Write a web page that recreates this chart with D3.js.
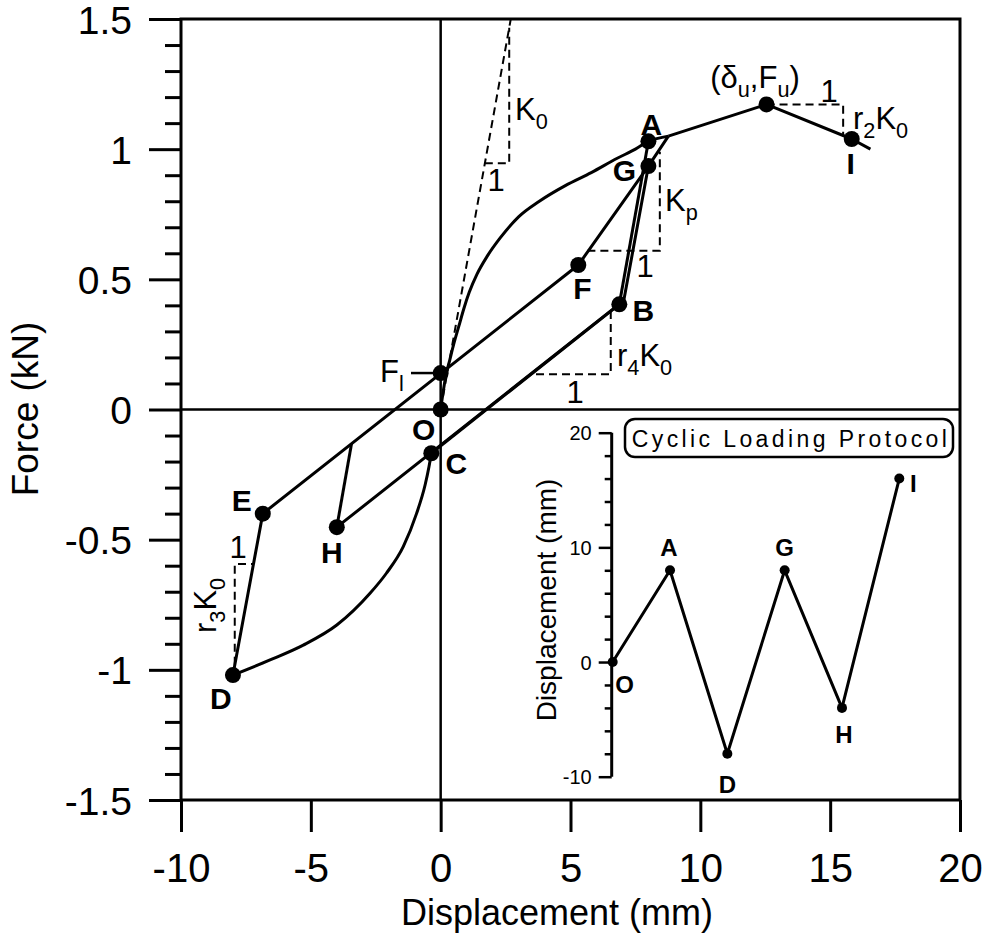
<!DOCTYPE html>
<html><head><meta charset="utf-8">
<script src="https://cdn.jsdelivr.net/npm/d3@7"></script>
<style>
body{margin:0;background:#fff}
svg{display:block}
text{font-family:"Liberation Sans",Arial,Helvetica,sans-serif;fill:#000}
</style>
</head><body><svg id="c" width="985" height="936"></svg>
<script>
// ---------------- data ----------------
const xTicks = [-10, -5, 0, 5, 10, 15, 20];
const yTicks = [-1.5, -1, -0.5, 0, 0.5, 1, 1.5];
const yMinorTicks = [-1.4,-1.3,-1.2,-1.1,-0.9,-0.8,-0.7,-0.6,-0.4,-0.3,-0.2,-0.1,0.1,0.2,0.3,0.4,0.6,0.7,0.8,0.9,1.1,1.2,1.3,1.4];

// monotonic backbone (positive side, smooth part)
const backboneX = [0, 0.1, 0.2, 0.35, 0.5, 0.7, 0.9, 1.1, 1.4, 1.8, 2.3, 3.0, 3.8, 4.8, 5.8, 6.8, 7.5, 8.0, 8.77];
const backboneY = [0, 0.07, 0.13, 0.19, 0.25, 0.32, 0.39, 0.45, 0.52, 0.59, 0.66, 0.74, 0.80, 0.86, 0.91, 0.965, 1.0, 1.03, 1.05];
// post-yield linear part: kink -> peak -> I -> end
const postX = [8.77, 12.55, 15.83, 16.55];
const postY = [1.05, 1.172, 1.039, 1.0];
// negative backbone from D to C
const negX = [-8, -6.57, -5.29, -4.0, -2.72, -2.09, -1.44, -0.93, -0.6, -0.45, -0.36];
const negY = [-1.02, -0.962, -0.905, -0.828, -0.706, -0.629, -0.527, -0.40, -0.29, -0.22, -0.168];
// hysteresis branches
const unloadAX = [8.0, 6.88];            const unloadAY = [1.03, 0.404];          // A -> B
const pinchBX  = [6.88, -0.36];          const pinchBY  = [0.404, -0.168];        // B -> C
const reloadDX = [-8, -6.85, 5.3, 8.0, 8.77]; const reloadDY = [-1.02, -0.40, 0.555, 0.935, 1.05]; // D->E->F->G->kink
const unloadGX = [8.0, 7.05, -4.0];      const unloadGY = [0.935, 0.418, -0.452]; // G -> pinch -> H
const reloadHX = [-4.0, -3.43];          const reloadHY = [-0.452, -0.13];        // H -> E-line

// marked points
const ptNames = ["A","G","F","B","I","E","H","O","C","D","Fl","Pk"];
const ptX = [8.0, 8.0, 5.3, 6.88, 15.83, -6.85, -4.0, 0, -0.36, -8.0, 0, 12.55];
const ptY = [1.03, 0.935, 0.555, 0.404, 1.039, -0.40, -0.452, 0, -0.168, -1.02, 0.14, 1.172];

// inset: cyclic loading protocol
const protoSteps = [0, 1, 2, 3, 4, 5];
const protoDisp  = [0, 8, -8, 8, -4, 16];
const protoNames = ["O","A","D","G","H","I"];
const insetTicks = [-10, 0, 10, 20];
const insetMinor = [-8,-6,-4,-2,2,4,6,8,12,14,16,18];

// ---------------- chart ----------------
const svg = d3.select("#c");
const x = d3.scaleLinear().domain([-10, 20]).range([181, 960]);
const y = d3.scaleLinear().domain([-1.5, 1.5]).range([800, 19]);
const zip = (a, b) => a.map((v, i) => [v, b[i]]);
const lin = d3.line().x(d => x(d[0])).y(d => y(d[1]));
const mono = d3.line().x(d => x(d[0])).y(d => y(d[1])).curve(d3.curveMonotoneX);

// axes
const gy = svg.append("g").attr("transform", "translate(181,0)")
  .call(d3.axisLeft(y).tickValues(yTicks).tickSize(32).tickPadding(17).tickFormat(d => String(d)));
gy.select(".domain").remove();
gy.selectAll("line").attr("stroke", "#000").attr("stroke-width", 3);
gy.selectAll("text").attr("font-size", 39).attr("font-family", "Liberation Sans, Arial, sans-serif").attr("dy", "0.36em");

const gym = svg.append("g").attr("transform", "translate(181,0)")
  .call(d3.axisLeft(y).tickValues(yMinorTicks).tickSize(16).tickFormat(""));
gym.select(".domain").remove();
gym.selectAll("line").attr("stroke", "#000").attr("stroke-width", 3);

const gx = svg.append("g").attr("transform", "translate(0,800)")
  .call(d3.axisBottom(x).tickValues(xTicks).tickSize(32).tickPadding(22).tickFormat(d => String(d)));
gx.select(".domain").remove();
gx.selectAll("line").attr("stroke", "#000").attr("stroke-width", 3);
gx.selectAll("text").attr("font-size", 40).attr("font-family", "Liberation Sans, Arial, sans-serif");

// frame
svg.append("rect").attr("x", 181).attr("y", 19).attr("width", 779).attr("height", 781)
  .attr("fill", "none").attr("stroke", "#000").attr("stroke-width", 3);
// zero lines
svg.append("line").attr("x1", x(-10)).attr("x2", x(20)).attr("y1", y(0)).attr("y2", y(0)).attr("stroke", "#000").attr("stroke-width", 2.5);
svg.append("line").attr("x1", x(0)).attr("x2", x(0)).attr("y1", y(1.5)).attr("y2", y(-1.5)).attr("stroke", "#000").attr("stroke-width", 2.5);

// axis titles
svg.append("text").attr("x", 557).attr("y", 925).attr("text-anchor", "middle").attr("font-size", 36).text("Displacement (mm)");
svg.append("text").attr("transform", "translate(38,409) rotate(-90)").attr("text-anchor", "middle").attr("font-size", 37).text("Force (kN)");

// dashed construction lines
const dashed = (pts) => svg.append("path").attr("d", lin(pts)).attr("fill", "none")
  .attr("stroke", "#000").attr("stroke-width", 2).attr("stroke-dasharray", "8,5");
dashed([[0, 0], [2.7, 1.5]]);
dashed([[1.70, 0.946], [2.64, 0.946], [2.64, 1.466]]);
dashed([[5.65, 0.61], [8.44, 0.61], [8.44, 0.99]]);
dashed([[12.55, 1.172], [15.5, 1.172], [15.5, 1.052]]);
dashed([[6.55, 0.378], [6.55, 0.135], [3.46, 0.135]]);
dashed([[-7.93, -0.98], [-7.93, -0.593], [-7.21, -0.593]]);

// solid curves
const solid = (d, gen) => svg.append("path").attr("d", gen(d)).attr("fill", "none")
  .attr("stroke", "#000").attr("stroke-width", 3).attr("stroke-linejoin", "round");
solid(zip(backboneX, backboneY), mono);
solid(zip(postX, postY), lin);
solid(zip(negX, negY), mono);
solid(zip(unloadAX, unloadAY), lin);
solid(zip(pinchBX, pinchBY), lin);
solid(zip(reloadDX, reloadDY), lin);
solid(zip(unloadGX, unloadGY), lin);
solid(zip(reloadHX, reloadHY), lin);

// F_l leader
svg.append("line").attr("x1", 411).attr("x2", x(0)).attr("y1", y(0.14)).attr("y2", y(0.14)).attr("stroke", "#000").attr("stroke-width", 2.5);

// dots
svg.append("g").selectAll("circle").data(zip(ptX, ptY)).join("circle")
  .attr("cx", d => x(d[0])).attr("cy", d => y(d[1])).attr("r", 8).attr("fill", "#000");

// point labels (bold)
const lblOff = {A:[3,-6], G:[-24,15], F:[4,34], B:[24,17], I:[-1,35], E:[-21,-3], H:[-5,36], O:[-17,30], C:[25,21], D:[-12,34]};
ptNames.forEach((n, i) => {
  if (!lblOff[n]) return;
  svg.append("text").attr("x", x(ptX[i]) + lblOff[n][0]).attr("y", y(ptY[i]) + lblOff[n][1])
    .attr("text-anchor", "middle").attr("font-size", 30).attr("font-weight", "bold").text(n);
});

// annotation labels with subscripts
function subText(xp, yp, parts, anchor, size, transform) {
  const t = svg.append("text").attr("font-size", size).attr("text-anchor", anchor || "start");
  if (transform) t.attr("transform", transform); else t.attr("x", xp).attr("y", yp);
  let shifted = false;
  parts.forEach(p => {
    const s = t.append("tspan").text(p[0]);
    if (p[1] === "sub") { s.attr("font-size", size * 0.7).attr("dy", shifted ? 0 : size * 0.28); shifted = true; }
    else { if (shifted) { s.attr("dy", -size * 0.28); shifted = false; } }
  });
  return t;
}
subText(515, 120, [["K"], ["0", "sub"]], "start", 31);
svg.append("text").attr("x", 496).attr("y", 191).attr("text-anchor", "middle").attr("font-size", 31).text("1");
subText(755, 88, [["(δ"], ["u", "sub"], [",F"], ["u", "sub"], [")"]], "middle", 31);
svg.append("text").attr("x", 829).attr("y", 102).attr("text-anchor", "middle").attr("font-size", 31).text("1");
subText(853, 129, [["r"], ["2", "sub"], ["K"], ["0", "sub"]], "start", 31);
subText(665, 211, [["K"], ["p", "sub"]], "start", 31);
svg.append("text").attr("x", 645).attr("y", 277).attr("text-anchor", "middle").attr("font-size", 31).text("1");
subText(617, 366, [["r"], ["4", "sub"], ["K"], ["0", "sub"]], "start", 31);
svg.append("text").attr("x", 575).attr("y", 403).attr("text-anchor", "middle").attr("font-size", 31).text("1");
subText(380, 382, [["F"], ["l", "sub"]], "start", 31);
svg.append("text").attr("x", 238).attr("y", 558).attr("text-anchor", "middle").attr("font-size", 31).text("1");
subText(0, 0, [["r"], ["3", "sub"], ["K"], ["0", "sub"]], "start", 31, "translate(216,633) rotate(-90)");

// ---------------- inset ----------------
const xi = d3.scaleLinear().domain([0, 5]).range([612.7, 899.3]);
const yi = d3.scaleLinear().domain([-10, 20]).range([776.7, 432.7]);
const gi = svg.append("g").attr("transform", "translate(611.7,0)")
  .call(d3.axisLeft(yi).tickValues(insetTicks).tickSize(13).tickPadding(7).tickFormat(d => String(d)));
gi.select(".domain").attr("stroke-width", 3).attr("d", `M0,${yi(20)}V${yi(-10)}`);
gi.selectAll("line").attr("stroke", "#000").attr("stroke-width", 2.5);
gi.selectAll("text").attr("font-size", 20).attr("font-family", "Liberation Sans, Arial, sans-serif").attr("dy", "0.36em");
const gim = svg.append("g").attr("transform", "translate(611.7,0)")
  .call(d3.axisLeft(yi).tickValues(insetMinor).tickSize(7).tickFormat(""));
gim.select(".domain").remove();
gim.selectAll("line").attr("stroke", "#000").attr("stroke-width", 2.5);

svg.append("text").attr("transform", "translate(556,600) rotate(-90)").attr("text-anchor", "middle")
  .attr("font-size", 28).text("Displacement (mm)");

const li = d3.line().x(d => xi(d[0])).y(d => yi(d[1]));
svg.append("path").attr("d", li(zip(protoSteps, protoDisp))).attr("fill", "none")
  .attr("stroke", "#000").attr("stroke-width", 3).attr("stroke-linejoin", "round");
svg.append("g").selectAll("circle").data(zip(protoSteps, protoDisp)).join("circle")
  .attr("cx", d => xi(d[0])).attr("cy", d => yi(d[1])).attr("r", 5).attr("fill", "#000");
const insOff = {O:[12,31], A:[-1,-14], D:[0,39], G:[0,-14], H:[2,35], I:[14,13]};
protoNames.forEach((n, i) => {
  svg.append("text").attr("x", xi(protoSteps[i]) + insOff[n][0]).attr("y", yi(protoDisp[i]) + insOff[n][1])
    .attr("text-anchor", "middle").attr("font-size", 24).attr("font-weight", "bold").text(n);
});
svg.append("rect").attr("x", 625).attr("y", 419).attr("width", 328).attr("height", 38).attr("rx", 10)
  .attr("fill", "#fff").attr("stroke", "#000").attr("stroke-width", 2.5);
svg.append("text").attr("x", 791).attr("y", 447).attr("text-anchor", "middle").attr("font-size", 23)
  .attr("letter-spacing", "3.4px").text("Cyclic Loading Protocol");
</script>
</body></html>
